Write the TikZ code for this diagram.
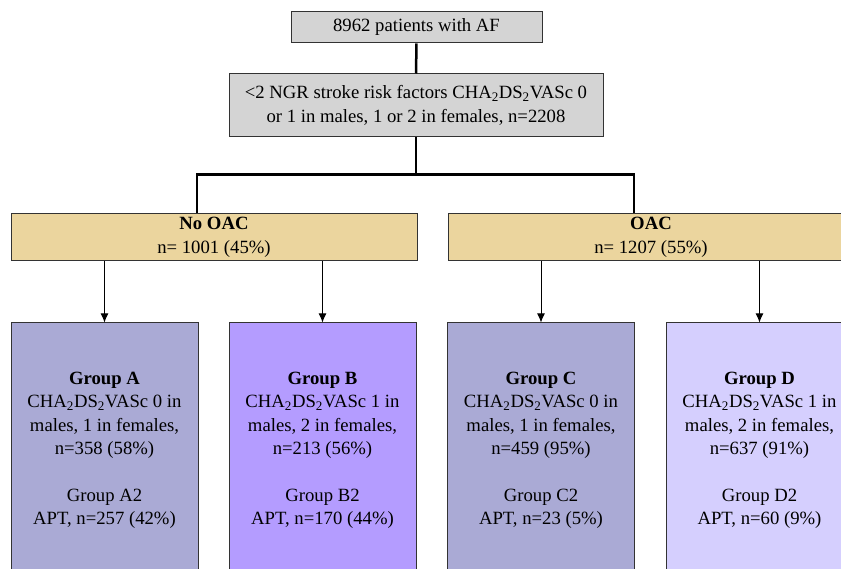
\documentclass[tikz,border=0pt]{standalone}
\usepackage{fontspec}
\setmainfont{Liberation Serif}
\usetikzlibrary{positioning,arrows.meta}
\definecolor{boxgrey}{HTML}{D4D4D4}
\definecolor{armyellow}{HTML}{EBD59E}
\definecolor{grpslate}{HTML}{AAAAD5}
\definecolor{grpviolet}{HTML}{B49CFF}
\definecolor{grplilac}{HTML}{D5CFFE}
\tikzset{box/.style={draw=black!80,line width=1pt,align=center,inner sep=0pt,font=\fontsize{18.7}{23.5}\selectfont},
	arm/.style={box,fill=armyellow,minimum width=406pt,minimum height=47pt},
	grp/.style={box,minimum width=187pt,minimum height=255pt},
	trunk/.style={line width=2.5pt,black},
	arr/.style={-{Latex[length=9pt,width=8pt]},line width=1pt,black}}

\begin{document}
\begin{tikzpicture}[x=1pt,y=-1pt]
	\useasboundingbox (0,0) rectangle (841,569);
	\clip (0,0) rectangle (841,569);
	% top of the flow
	\node[box,fill=boxgrey,minimum width=251pt,minimum height=31pt] (total) at (416.5,27.5) {8962 patients with AF};
	\node[box,fill=boxgrey,minimum width=374pt,minimum height=63pt] (crit) at (416,105.5) {<2 NGR stroke risk factors CHA\textsubscript{2}DS\textsubscript{2}VASc 0\\or 1 in males, 1 or 2 in females, n=2208};
	% treatment arms
	\node[arm] (noac) at (214,237.5) {\textbf{No OAC}\\n= 1001 (45\%)};
	\node[arm] (oac) at (651,237.5) {\textbf{OAC}\\n= 1207 (55\%)};
	% groups
	\node[grp,fill=grpslate] (grpA) at (104.5,450.5) {\textbf{Group A}\\CHA\textsubscript{2}DS\textsubscript{2}VASc 0 in\\males, 1 in females,\\n=358 (58\%)\\[23pt]Group A2\\APT, n=257 (42\%)};
	\node[grp,fill=grpviolet] (grpB) at (322.5,450.5) {\textbf{Group B}\\CHA\textsubscript{2}DS\textsubscript{2}VASc 1 in\\males, 2 in females,\\n=213 (56\%)\\[23pt]Group B2\\APT, n=170 (44\%)};
	\node[grp,fill=grpslate] (grpC) at (541,450.5) {\textbf{Group C}\\CHA\textsubscript{2}DS\textsubscript{2}VASc 0 in\\males, 1 in females,\\n=459 (95\%)\\[23pt]Group C2\\APT, n=23 (5\%)};
	\node[grp,fill=grplilac] (grpD) at (759.5,450.5) {\textbf{Group D}\\CHA\textsubscript{2}DS\textsubscript{2}VASc 1 in\\males, 2 in females,\\n=637 (91\%)\\[23pt]Group D2\\APT, n=60 (9\%)};
	% connectors
	\draw[trunk] (total.south) -- (crit.north);
	\draw[trunk] (crit.south) -- ++(0,37) coordinate (split);
	\coordinate (noacin) at ([xshift=-17pt]noac.north);
	\coordinate (oacin) at ([xshift=-17pt]oac.north);
	\draw[trunk] (noacin) |- (split) -| (oacin);
	\foreach \arm/\g in {noac/grpA,noac/grpB,oac/grpC,oac/grpD}{
		\draw[arr] (\arm.south -| \g.north) -- (\g.north);
	}
\end{tikzpicture}
\end{document}
